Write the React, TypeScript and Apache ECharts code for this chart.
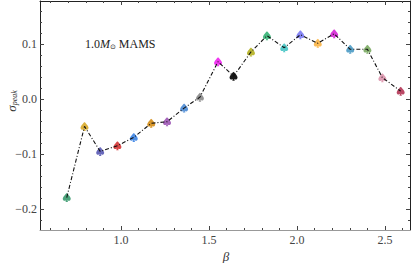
import React, { useEffect, useRef } from "react";
import * as echarts from "echarts";

const betaValues = [0.691, 0.792, 0.881, 0.979, 1.072, 1.171, 1.261, 1.358, 1.448, 1.551, 1.639, 1.738, 1.829, 1.927, 2.019, 2.118, 2.211, 2.302, 2.4, 2.485, 2.589];
const sigmaValues = [-0.1785, -0.0495, -0.0948, -0.0845, -0.0694, -0.0438, -0.041, -0.0163, 0.0036, 0.068, 0.0416, 0.0855, 0.115, 0.0933, 0.1168, 0.1013, 0.1186, 0.0904, 0.0904, 0.039, 0.0145];
const pointColors = ["#3a9a6e", "#d8aa2a", "#5858b4", "#d43434", "#3c84e4", "#d48c14", "#9c54b4", "#4a8ad4", "#8a8a8a", "#ee22ee", "#000000", "#b4b020", "#34b274", "#44c4c4", "#7a7af4", "#fbb444", "#d424d4", "#4a9ac4", "#7aaa62", "#dc94ac", "#b23454"];

const xMajorTicks = [1.0, 1.5, 2.0, 2.5];
const xMinorTicks = [0.6, 0.7, 0.8, 0.9, 1.1, 1.2, 1.3, 1.4, 1.6, 1.7, 1.8, 1.9, 2.1, 2.2, 2.3, 2.4, 2.6];
const yMajorTicks = [-0.2, -0.1, 0.0, 0.1];
const yMinorTicks = [-0.22, -0.18, -0.16, -0.14, -0.12, -0.08, -0.06, -0.04, -0.02, 0.02, 0.04, 0.06, 0.08, 0.12, 0.14, 0.16];

const X_MIN = 0.539;
const X_MAX = 2.642;
const Y_MIN = -0.2374;
const Y_MAX = 0.178;

const SPADE = "path://M50 0 C50 0 0 42 0 64 C0 84 24 94 44 80 L34 100 L66 100 L56 80 C76 94 100 84 100 64 C100 42 50 0 50 0 Z";
const FONT = "'Liberation Serif', 'DejaVu Serif', serif";

function makeX(position: string, ticks: number[], len: number, showLine: boolean, showLabel: boolean, lineColor: string) {
  return {
    type: "value",
    min: X_MIN,
    max: X_MAX,
    position,
    axisLine: { show: showLine, onZero: false, lineStyle: { color: lineColor, width: 1 } },
    axisTick: { show: true, inside: true, length: len, customValues: ticks, lineStyle: { color: "#444", width: 1 } },
    axisLabel: {
      show: showLabel,
      customValues: ticks,
      formatter: (v: number) => v.toFixed(1),
      color: "#444",
      fontFamily: FONT,
      fontSize: 12,
      margin: 4,
    },
    splitLine: { show: false },
  };
}

function makeY(position: string, ticks: number[], len: number, showLine: boolean, showLabel: boolean, lineColor: string) {
  return {
    type: "value",
    min: Y_MIN,
    max: Y_MAX,
    position,
    axisLine: { show: showLine, onZero: false, lineStyle: { color: lineColor, width: 1 } },
    axisTick: { show: true, inside: true, length: len, customValues: ticks, lineStyle: { color: "#444", width: 1 } },
    axisLabel: {
      show: showLabel,
      customValues: ticks,
      formatter: (v: number) => (v < 0 ? "\u2212" + Math.abs(v).toFixed(1) : v.toFixed(1)),
      color: "#444",
      fontFamily: FONT,
      fontSize: 12,
      margin: 3,
    },
    splitLine: { show: false },
  };
}

export default function App() {
  const ref = useRef<HTMLDivElement>(null);
  useEffect(() => {
    if (!ref.current) return;
    const chart = echarts.init(ref.current, null, { renderer: "svg" });
    const pts = betaValues.map((b, i) => [b, sigmaValues[i]]);
    chart.setOption({
      animation: false,
      grid: { left: 40, right: 2, top: 1, bottom: 33, containLabel: false },
      xAxis: [
        makeX("bottom", xMajorTicks, 4, true, true, "#999"),
        makeX("bottom", xMinorTicks, 2, false, false, "#999"),
        makeX("top", xMajorTicks, 4, true, false, "#222"),
        makeX("top", xMinorTicks, 2, false, false, "#222"),
      ],
      yAxis: [
        makeY("left", yMajorTicks, 4, true, true, "#222"),
        makeY("left", yMinorTicks, 2, false, false, "#222"),
        makeY("right", yMajorTicks, 4, true, false, "#222"),
        makeY("right", yMinorTicks, 2, false, false, "#222"),
      ],
      series: [
        {
          type: "scatter",
          xAxisIndex: 0,
          yAxisIndex: 0,
          symbol: SPADE,
          symbolSize: [8, 9],
          z: 2,
          data: pts.map((p, i) => ({ value: p, itemStyle: { color: pointColors[i], opacity: 0.9 } })),
        },
        {
          type: "line",
          xAxisIndex: 0,
          yAxisIndex: 0,
          data: pts,
          showSymbol: false,
          symbol: "none",
          z: 3,
          lineStyle: { color: "#111", width: 1.1, type: [4, 2, 1, 2] },
        },
      ],
      graphic: [
        {
          type: "text",
          x: 85,
          y: 44,
          style: {
            text: "{n|1.0}{m|M}{sub|\u2299}{n| MAMS}",
            verticalAlign: "middle",
            rich: {
              n: { fontFamily: FONT, fontSize: 12, fill: "#222" },
              m: { fontFamily: FONT, fontSize: 12, fontStyle: "italic", fill: "#222" },
              sub: { fontFamily: "'DejaVu Sans', sans-serif", fontSize: 7, fill: "#222", verticalAlign: "bottom", padding: [5, 0, 0, 0] },
            },
          },
        },
        {
          type: "text",
          x: 226,
          y: 256,
          style: {
            text: "\u03b2",
            align: "center",
            verticalAlign: "middle",
            fontFamily: FONT,
            fontStyle: "italic",
            fontSize: 13,
            fill: "#333",
          },
        },
        {
          type: "text",
          x: 11,
          y: 101,
          rotation: Math.PI / 2,
          style: {
            text: "{s|\u03c3}{sub|peak}",
            align: "center",
            verticalAlign: "middle",
            rich: {
              s: { fontFamily: FONT, fontStyle: "italic", fontSize: 13, fill: "#333" },
              sub: { fontFamily: FONT, fontStyle: "italic", fontSize: 8, fill: "#333", padding: [7, 0, 0, 0] },
            },
          },
        },
      ],
    });
    return () => chart.dispose();
  }, []);
  return <div ref={ref} style={{ position: "absolute", left: 0, top: 0, width: 412, height: 263 }} />;
}
